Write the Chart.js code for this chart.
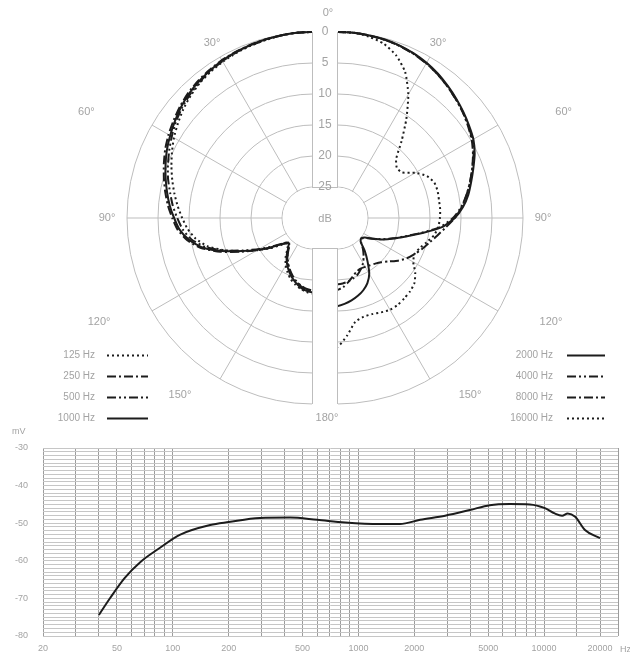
<!DOCTYPE html>
<html>
<head>
<meta charset="utf-8">
<script src="https://cdn.jsdelivr.net/npm/chart.js@4/dist/chart.umd.min.js"></script>
<style>
  html, body { margin:0; padding:0; background:#fff; overflow:hidden; }
  #wrap { position:relative; width:630px; height:658px; }
  canvas { position:absolute; }
  #polarL { left:0; top:0; }
  #polarR { left:48px; top:0; }
  #freq { left:0; top:425px; }
</style>
</head>
<body>
<div id="wrap">
  <canvas id="polarL" width="626" height="436"></canvas>
  <canvas id="polarR" width="578" height="436"></canvas>
  <canvas id="freq" width="630" height="233"></canvas>
</div>
<script>
/* =========================================================
   POLAR DATA  (dB below 0 dB, every 5 deg from 0 to 180)
========================================================= */

const angleLabels = [];
for (let a = 0; a < 360; a += 5) angleLabels.push(a + "°");

const dbRings = [0, 5, 10, 15, 20, 25];
const degreeTicks = [30, 60, 90, 120, 150];

// left half
const hz125 = [0,0,0.1,0.3,0.45,0.65,0.9,1.2,1.6,2.1,2.7,3.4,4.1,4.9,5.7,6.5,7.3,8.1,8.9,9.7,10.8,12.4,14.8,17.4,19.6,21.5,23.2,24.2,23.6,22.3,21.2,20.3,19.5,18.9,18.4,18.0,17.8];
const hz250 = [0,0,0.1,0.2,0.3,0.45,0.6,0.85,1.15,1.5,2.0,2.55,3.1,3.7,4.4,5.1,5.8,6.5,7.3,8.1,9.4,11.3,14.1,17.1,19.6,21.6,23.4,24.3,23.9,22.8,21.8,20.9,20.1,19.4,18.8,18.4,18.2];
const hz500 = [0,0,0.1,0.25,0.4,0.55,0.8,1.1,1.45,1.9,2.4,3.0,3.7,4.4,5.1,5.8,6.6,7.3,8.1,8.9,10.1,12.0,14.7,17.6,20.0,22.0,23.6,24.5,24.0,22.9,21.9,21.0,20.2,19.5,18.9,18.5,18.3];
const hz1000 = [0,0,0.1,0.2,0.35,0.5,0.7,1.0,1.3,1.7,2.2,2.8,3.4,4.0,4.7,5.4,6.1,6.8,7.6,8.4,9.7,11.6,14.4,17.4,19.8,21.8,23.5,24.4,23.8,22.6,21.6,20.7,19.9,19.2,18.6,18.2,18.0];

// right half
const hz2000 = [0,0,0.1,0.2,0.4,0.7,1.1,1.6,2.2,2.8,3.4,4.0,4.6,5.5,6.6,7.6,8.5,9.6,11.0,13.0,16.0,18.5,20.3,21.8,23.3,24.5,24.9,24.6,23.0,21.4,19.6,18.4,17.6,17.0,16.5,16.1,15.8];
const hz4000 = [0,0,0.1,0.25,0.45,0.75,1.2,1.7,2.3,2.9,3.5,4.1,4.8,5.7,6.8,7.8,8.8,9.9,11.3,13.3,16.2,18.6,20.4,21.9,23.3,24.4,24.8,24.5,23.5,22.5,21.6,20.9,20.3,19.9,19.6,19.4,19.3];
const hz8000 = [0,0,0.1,0.25,0.5,0.8,1.2,1.7,2.3,2.9,3.5,4.2,4.9,5.8,6.8,7.8,8.8,9.8,11.0,12.4,13.6,14.6,15.4,16.2,17.0,18.0,19.1,19.9,20.4,20.7,20.9,21.0,20.8,20.2,19.5,18.8,18.4];
const hz16000 = [0,0,0.3,0.9,2.1,4.0,7.0,10.5,13.8,16.5,17.4,17.2,15.4,14.0,13.3,13.2,13.3,13.3,13.4,13.6,14.1,15.0,15.8,16.2,15.8,14.6,13.7,13.3,13.1,12.9,12.9,13.2,13.5,13.5,13.0,11.0,9.2];

/* =========================================================
   FREQUENCY RESPONSE DATA
========================================================= */

const freqHz = [40,46,55,67,85,109,159,200,294,428,600,848,1300,1670,2150,2930,3980,5100,6540,8380,10100,11400,12500,13400,14700,16600,20000];
const levelDb = [-74.4,-69.9,-64.6,-60.3,-56.6,-53.1,-50.5,-49.7,-48.6,-48.5,-49.1,-49.8,-50.2,-50.2,-49.1,-48.0,-46.5,-45.2,-44.9,-45.0,-46.0,-47.4,-48.0,-47.4,-48.3,-51.8,-54.0];

const freqGrid = [20,30,40,50,60,70,80,90,100,200,300,400,500,600,700,800,900,1000,2000,3000,4000,5000,6000,7000,8000,9000,10000,15000,20000,25000];
const freqLabels = [20,50,100,200,500,1000,2000,5000,10000,20000];
const levelLabels = [-80,-70,-60,-50,-40,-30];

/* =========================================================
   STYLE
========================================================= */

const FONT = "'Liberation Sans Narrow','Liberation Sans',sans-serif";
const GRID = "#bdbdbd";
const TEXT = "#a3a3a3";
const INK = "#1c1c1c";
const GAP = 24;

const dash = {
  dotted: [2, 3],
  dashDot: [9, 3, 2, 3],
  dashDotDot: [9, 3, 2, 3, 2, 3],
  solid: []
};

// where the degree labels sit (angle from top, distance from centre)
const labelSpots = [
  { ang: 30, dist: 202 },
  { ang: 65, dist: 250 },
  { ang: 90, dist: 206 },
  { ang: 116, dist: 238 },
  { ang: 143, dist: 221 }
];

/* =========================================================
   HELPERS
========================================================= */

function mirror(half){
  return angleLabels.map((l, i) => {
    const a = i * 5;
    const k = (a <= 180 ? a : 360 - a) / 5;
    return half[k];
  });
}

function makeSet(label, half, style){
  return {
    label: label,
    data: mirror(half),
    borderColor: INK,
    borderWidth: 2,
    borderDash: dash[style],
    pointRadius: 0,
    fill: false,
    tension: 0.2
  };
}

function polarDecor(side){

  return {

    id: "polarDecor",

    beforeDraw(chart){
      const s = chart.scales.r;
      const ctx = chart.ctx;
      ctx.save();
      ctx.beginPath();
      if(side === "left") ctx.rect(0, 0, s.xCenter - 1, chart.height);
      else ctx.rect(s.xCenter + 1, 0, chart.width, chart.height);
      ctx.clip();
    },

    beforeDatasetsDraw(chart){
      const s = chart.scales.r;
      const ctx = chart.ctx;
      ctx.save();
      ctx.fillStyle = "#fff";
      ctx.beginPath();
      ctx.arc(s.xCenter, s.yCenter, s.getDistanceFromCenterForValue(25) - 0.6, 0, Math.PI * 2);
      ctx.fill();
      ctx.restore();
    },

    afterDraw(chart){
      const s = chart.scales.r;
      const ctx = chart.ctx;
      ctx.restore();

      const sign = side === "left" ? -1 : 1;

      /* DEGREE LABELS */

      ctx.save();
      ctx.fillStyle = TEXT;
      ctx.font = "11px " + FONT;
      ctx.textAlign = "center";
      ctx.textBaseline = "middle";
      degreeTicks.forEach((d, i) => {
        const p = labelSpots[i];
        const t = p.ang * Math.PI / 180;
        ctx.fillText(d + "°", s.xCenter + sign * p.dist * Math.sin(t), s.yCenter - p.dist * Math.cos(t));
      });
      ctx.restore();

      /* LEGEND */

      const lg = side === "left"
        ? { textRight: 95, x1: 107, x2: 148 }
        : { textRight: 505, x1: 519, x2: 557 };

      ctx.save();
      ctx.font = "10px " + FONT;
      ctx.textAlign = "right";
      ctx.textBaseline = "middle";
      chart.data.datasets.forEach((ds, i) => {
        const y = 355 + i * 21;
        ctx.fillStyle = TEXT;
        ctx.fillText(ds.label, lg.textRight, y);
        ctx.strokeStyle = INK;
        ctx.lineWidth = 2;
        ctx.setLineDash(ds.borderDash);
        ctx.beginPath();
        ctx.moveTo(lg.x1, y + 0.5);
        ctx.lineTo(lg.x2, y + 0.5);
        ctx.stroke();
      });
      ctx.restore();

      if(side !== "right") return;

      /* CENTRE STRIP */

      const xr = s.xCenter;
      const xl = s.xCenter - GAP;
      const mid = (xl + xr) / 2;
      const r0 = s.getDistanceFromCenterForValue(0);
      const r25 = s.getDistanceFromCenterForValue(25);
      const yc = s.yCenter;

      ctx.save();
      ctx.strokeStyle = GRID;
      ctx.lineWidth = 1;
      ctx.beginPath();
      [xl - 0.5, xr + 0.5].forEach(x => {
        ctx.moveTo(x, yc - r0);
        ctx.lineTo(x, yc - r25);
        ctx.moveTo(x, yc + r25);
        ctx.lineTo(x, yc + r0);
      });
      ctx.moveTo(xl - 1, yc - r25 + 0.5);
      ctx.lineTo(xr + 1, yc - r25 + 0.5);
      ctx.moveTo(xl - 1, yc + r25 - 0.5);
      ctx.lineTo(xr + 1, yc + r25 - 0.5);
      ctx.stroke();

      ctx.fillStyle = TEXT;
      ctx.textAlign = "center";
      ctx.textBaseline = "middle";
      ctx.font = "12px " + FONT;
      dbRings.forEach(v => {
        ctx.fillText(String(v), mid, yc - s.getDistanceFromCenterForValue(v));
      });
      ctx.font = "11px " + FONT;
      ctx.fillText("dB", mid, yc + 1);
      ctx.fillText("0°", mid + 3, yc - r0 - 19);
      ctx.fillText("180°", mid + 2, yc + r0 + 14);
      ctx.restore();
    }

  };

}

function polarOptions(){
  return {
    responsive: false,
    animation: false,
    devicePixelRatio: 1,
    layout: { padding: { top: 32, bottom: 32, left: 0, right: 0 } },
    plugins: { legend: { display: false }, tooltip: { enabled: false } },
    scales: {
      r: {
        min: 0,
        max: 30,
        reverse: true,
        ticks: { display: false, stepSize: 5 },
        grid: { circular: true, color: GRID, lineWidth: 1 },
        angleLines: {
          color: GRID,
          lineWidth: ctx => (ctx.index * 5) % 30 === 0 ? 1 : 0
        },
        pointLabels: { display: false }
      }
    }
  };
}

/* =========================================================
   POLAR CHARTS
========================================================= */

new Chart(document.getElementById("polarL"), {
  type: "radar",
  data: {
    labels: angleLabels,
    datasets: [
      makeSet("125 Hz", hz125, "dotted"),
      makeSet("250 Hz", hz250, "dashDot"),
      makeSet("500 Hz", hz500, "dashDotDot"),
      makeSet("1000 Hz", hz1000, "solid")
    ]
  },
  options: polarOptions(),
  plugins: [polarDecor("left")]
});

new Chart(document.getElementById("polarR"), {
  type: "radar",
  data: {
    labels: angleLabels,
    datasets: [
      makeSet("2000 Hz", hz2000, "solid"),
      makeSet("4000 Hz", hz4000, "dashDotDot"),
      makeSet("8000 Hz", hz8000, "dashDot"),
      makeSet("16000 Hz", hz16000, "dotted")
    ]
  },
  options: polarOptions(),
  plugins: [polarDecor("right")]
});

/* =========================================================
   FREQUENCY RESPONSE
========================================================= */

const unitLabels = {
  id: "unitLabels",
  afterDraw(chart){
    const ctx = chart.ctx;
    ctx.save();
    ctx.fillStyle = TEXT;
    ctx.font = "9px " + FONT;
    ctx.textBaseline = "middle";
    ctx.textAlign = "left";
    ctx.fillText("mV", 12, 7);
    ctx.fillText("Hz", 620, chart.height - 8);
    ctx.restore();
  }
};

new Chart(document.getElementById("freq"), {
  type: "line",
  data: {
    datasets: [{
      data: freqHz.map((f, i) => ({ x: f, y: levelDb[i] })),
      borderColor: INK,
      borderWidth: 2,
      pointRadius: 0,
      fill: false,
      cubicInterpolationMode: "monotone"
    }]
  },
  options: {
    responsive: false,
    animation: false,
    devicePixelRatio: 1,
    layout: { padding: { top: 23, right: 12, left: 0, bottom: 0 } },
    plugins: { legend: { display: false }, tooltip: { enabled: false } },
    scales: {
      x: {
        type: "logarithmic",
        min: 20,
        max: 25000,
        afterBuildTicks: s => { s.ticks = freqGrid.map(v => ({ value: v })); },
        afterFit: s => { s.height = 22; },
        grid: { color: "#9c9c9c", drawTicks: false },
        border: { display: false },
        ticks: {
          autoSkip: false,
          maxRotation: 0,
          padding: 7,
          color: TEXT,
          font: { size: 9, family: FONT },
          callback: v => freqLabels.includes(v) ? String(v) : ""
        }
      },
      y: {
        min: -80,
        max: -30,
        afterBuildTicks: s => {
          const t = [];
          for (let v = -80; v <= -30; v++) t.push({ value: v });
          s.ticks = t;
        },
        afterFit: s => { s.width = 43; },
        grid: { color: "#c6c6c6", drawTicks: false },
        border: { display: false },
        ticks: {
          autoSkip: false,
          padding: 15,
          color: TEXT,
          font: { size: 9, family: FONT },
          callback: v => levelLabels.includes(v) ? String(v) : ""
        }
      }
    }
  },
  plugins: [unitLabels]
});
</script>
</body>
</html>
